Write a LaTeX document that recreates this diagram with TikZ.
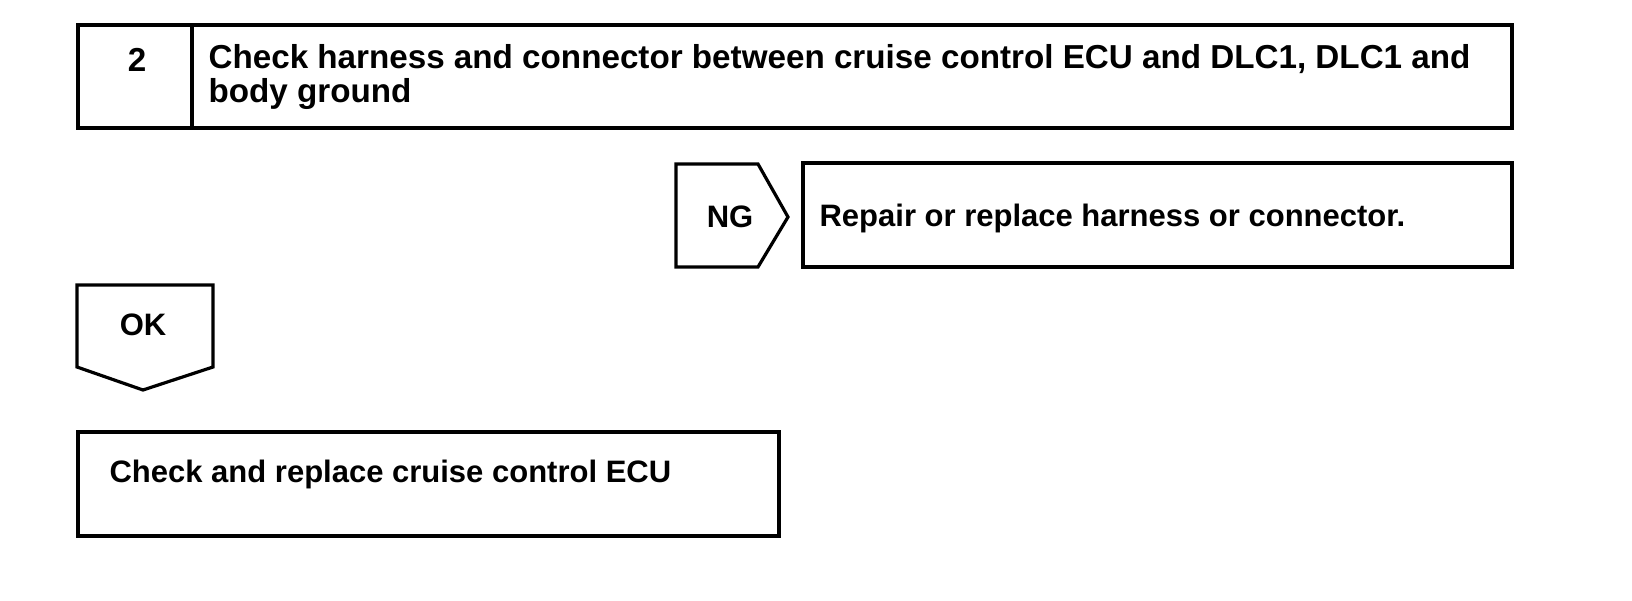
\documentclass[tikz,border=0pt]{standalone}
\usepackage{fontspec}
\setmainfont{Liberation Sans}
\begin{document}
\begin{tikzpicture}[x=0.5pt, y=-0.5pt, line width=1.6pt]
\tikzset{lbl/.style={font=\bfseries\fontsize{15.5}{17}\selectfont, inner sep=0pt},
  biglbl/.style={lbl, font=\bfseries\fontsize{16.6}{17.2}\selectfont}}
\useasboundingbox (0,0) rectangle (1632,600);

% step 2
\draw (78,25) rectangle (1512,128);
\draw (192,25)--(192,128);
\node[biglbl] (num) at (137,60) {2};
\node[biglbl, anchor=west, align=left] (step) at (207,77) {Check harness and connector between cruise control ECU and DLC1, DLC1 and\\body ground};

% NG branch
\draw (676,164)--(758,164)--(788,217)--(758,267)--(676,267)--cycle;
\node[lbl] (ng) at (730,217) {NG};
\draw (803,163) rectangle (1512,267);
\node[lbl, anchor=west] (repair) at (818,218) {Repair or replace harness or connector.};

% OK branch
\draw (77,285)--(213,285)--(213,367)--(143,390)--(77,367)--cycle;
\node[lbl] (ok) at (143,325) {OK};
\draw (78,432) rectangle (779,536);
\node[lbl, anchor=west] (ecu) at (108,474) {Check and replace cruise control ECU};

\end{tikzpicture}
\end{document}
